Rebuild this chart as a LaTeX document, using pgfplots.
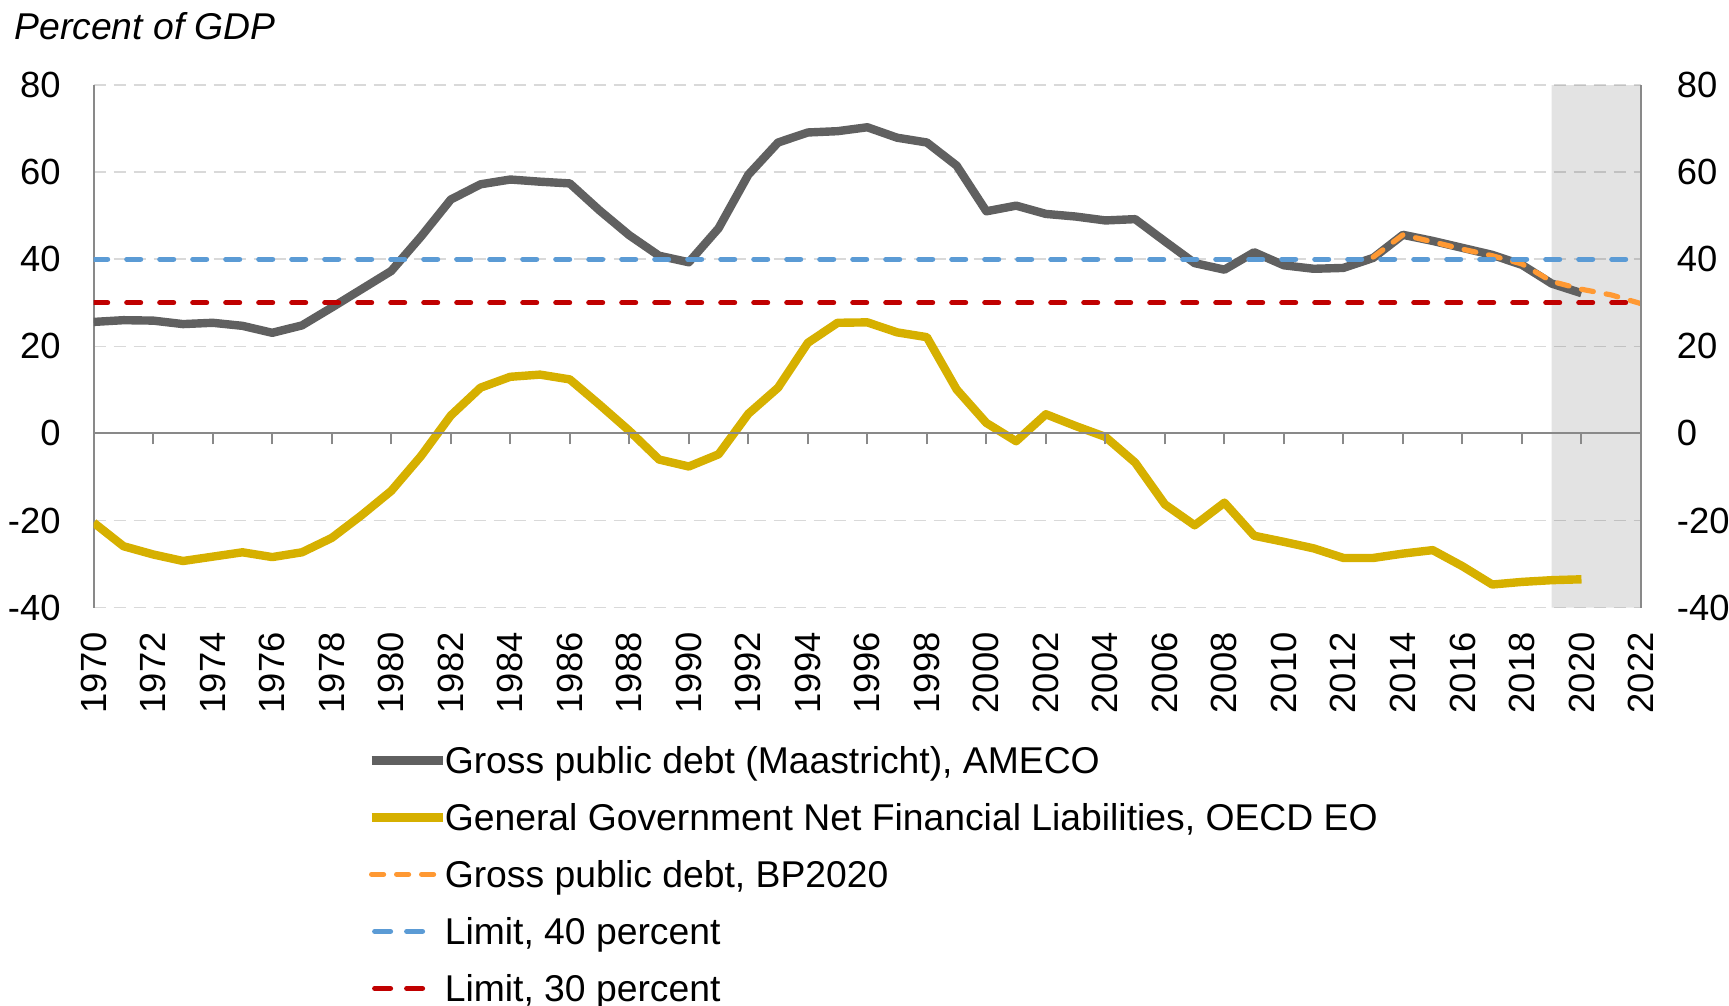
\documentclass[border=0pt]{standalone}
\usepackage{fontspec}
\setmainfont{Liberation Sans}
\usepackage{pgfplots}
\pgfplotsset{compat=1.18}
\definecolor{debtgray}{RGB}{96,96,96}
\definecolor{netyellow}{RGB}{214,176,0}
\definecolor{bporange}{RGB}{255,153,51}
\definecolor{limblue}{RGB}{91,155,213}
\definecolor{limred}{RGB}{192,0,0}
\definecolor{gridgray}{RGB}{217,217,217}
\definecolor{axisgray}{RGB}{137,137,137}
\newcommand\chartfont{\fontsize{18.2pt}{22pt}\selectfont}
\newcommand\legfont{\fontsize{18.65pt}{22pt}\selectfont}
\pgfplotsset{limitlegend/.style={legend image code/.code={\draw[##1, dash pattern=on 8pt off 8pt] (1.5pt,0.8pt) -- (27pt,0.8pt);}}}
\begin{document}
\begin{tikzpicture}
\useasboundingbox (-46.85pt,-199.2pt) rectangle (817.65pt,303.8pt);
\clip (-46.85pt,-199.2pt) rectangle (817.65pt,303.8pt);
\begin{axis}[
  scale only axis, width=773.65pt, height=261.3pt,
  xmin=1970, xmax=2022, ymin=-40, ymax=80,
  axis y line*=left, axis x line*=bottom,
  x axis line style={draw=none},
  y axis line style={draw=axisgray, line width=1pt},
  xtick={1970,1972,...,2022},
  xticklabels={1970,1972,1974,1976,1978,1980,1982,1984,1986,1988,1990,1992,1994,1996,1998,2000,2002,2004,2006,2008,2010,2012,2014,2016,2018,2020,2022},
  ytick={-40,-20,0,20,40,60,80},
  yticklabels={-40,-20,0,20,40,60,80},
  major tick length=0pt, tick style={draw=none},
  ymajorgrids, grid style={draw=gridgray, line width=0.75pt, dash pattern=on 6pt off 4pt},
  tick label style={font=\chartfont},
  yticklabel style={anchor=east, inner sep=0pt, xshift=-16.35pt},
  xticklabel style={yshift=-12.2pt, rotate=90, anchor=east, inner sep=0pt},
  legend cell align=left,
  legend style={at={(rel axis cs:0,0)}, anchor=north west, xshift=136.65pt, yshift=-62.75pt,
    draw=none, fill=none, inner sep=0pt, row sep=0pt, font=\legfont,
    nodes={inner sep=0pt, text height=19.85pt, text depth=8.65pt},
    /tikz/every odd column/.style={column sep=-1pt}},
  legend image code/.code={\draw[#1] (0pt,0.8pt) -- (35.5pt,0.8pt);},
]
\addplot[forget plot, draw=none, fill=black, fill opacity=0.11]
  coordinates {(2019,-40) (2019,80) (2022,80) (2022,-40) (2019,-40)};
\addplot[debtgray, line width=4.2pt, line join=round] coordinates {
(1970,25.6) (1971,26.0) (1972,25.9) (1973,25.1) (1974,25.4) (1975,24.7) (1976,23.1) (1977,24.8)
(1978,28.9) (1979,33.1) (1980,37.3) (1981,45.2) (1982,53.7) (1983,57.2) (1984,58.3) (1985,57.8)
(1986,57.4) (1987,51.2) (1988,45.5) (1989,40.8) (1990,39.3) (1991,47.1) (1992,59.4) (1993,66.8)
(1994,69.1) (1995,69.4) (1996,70.3) (1997,67.9) (1998,66.8) (1999,61.5) (2000,51.0) (2001,52.3)
(2002,50.4) (2003,49.8) (2004,48.9) (2005,49.2) (2006,44.1) (2007,39.1) (2008,37.6) (2009,41.6)
(2010,38.6) (2011,37.8) (2012,38.0) (2013,40.3) (2014,45.6) (2015,44.2) (2016,42.6) (2017,41.0)
(2018,38.7) (2019,34.4) (2020,32.2)};
\addlegendentry{Gross public debt (Maastricht), AMECO}
\addplot[netyellow, line width=4.2pt, line join=round] coordinates {
(1970,-20.5) (1971,-25.9) (1972,-27.8) (1973,-29.3) (1974,-28.3) (1975,-27.3) (1976,-28.4) (1977,-27.3)
(1978,-24.0) (1979,-18.8) (1980,-13.2) (1981,-5.2) (1982,4.1) (1983,10.5) (1984,13.0) (1985,13.5)
(1986,12.4) (1987,6.6) (1988,0.6) (1989,-6.0) (1990,-7.6) (1991,-4.8) (1992,4.5) (1993,10.5)
(1994,20.8) (1995,25.4) (1996,25.5) (1997,23.2) (1998,22.1) (1999,10.1) (2000,2.4) (2001,-1.8)
(2002,4.4) (2003,1.7) (2004,-0.8) (2005,-6.7) (2006,-16.3) (2007,-21.1) (2008,-15.9) (2009,-23.5)
(2010,-24.9) (2011,-26.4) (2012,-28.6) (2013,-28.6) (2014,-27.6) (2015,-26.8) (2016,-30.5) (2017,-34.7)
(2018,-34.1) (2019,-33.7) (2020,-33.5)};
\addlegendentry{General Government Net Financial Liabilities, OECD EO}
\addplot[bporange, line width=2.6pt, line cap=round, line join=round, dash pattern=on 6pt off 6.5pt] coordinates {
(2013,40.5) (2014,45.6) (2015,44.0) (2016,42.3) (2017,40.8) (2018,38.9) (2019,34.9) (2020,33.1) (2021,31.8) (2022,29.8)};
\addlegendentry{Gross public debt, BP2020}
\addplot[limblue, line width=2.5pt, line cap=round, dash pattern=on 7pt off 9.5pt, limitlegend] coordinates {(1970,40) (2022,40)};
\addlegendentry{Limit, 40 percent}
\addplot[limred, line width=2.5pt, line cap=round, dash pattern=on 7pt off 9.5pt, limitlegend] coordinates {(1970,30) (2022,30)};
\addlegendentry{Limit, 30 percent}
\end{axis}
\begin{axis}[
  scale only axis, width=773.65pt, height=261.3pt,
  xmin=1970, xmax=2022, ymin=-40, ymax=80,
  axis y line*=right, axis x line*=middle,
  axis line style={draw=axisgray, line width=1pt},
  xtick={1970,1972,...,2022}, xticklabels={},
  ytick={-40,-20,0,20,40,60,80},
  yticklabels={-40,-20,0,20,40,60,80},
  ytick style={draw=none},
  tick align=center, major tick length=5.5pt,
  xtick style={draw=axisgray, line width=1pt, yshift=-2.75pt},
  yticklabel style={anchor=west, inner sep=0pt, xshift=15pt, font=\chartfont},
]
\end{axis}
\node[anchor=base west, inner sep=0pt, font=\legfont\itshape] at (-39.85pt,283.8pt) {Percent of GDP};
\end{tikzpicture}
\end{document}
